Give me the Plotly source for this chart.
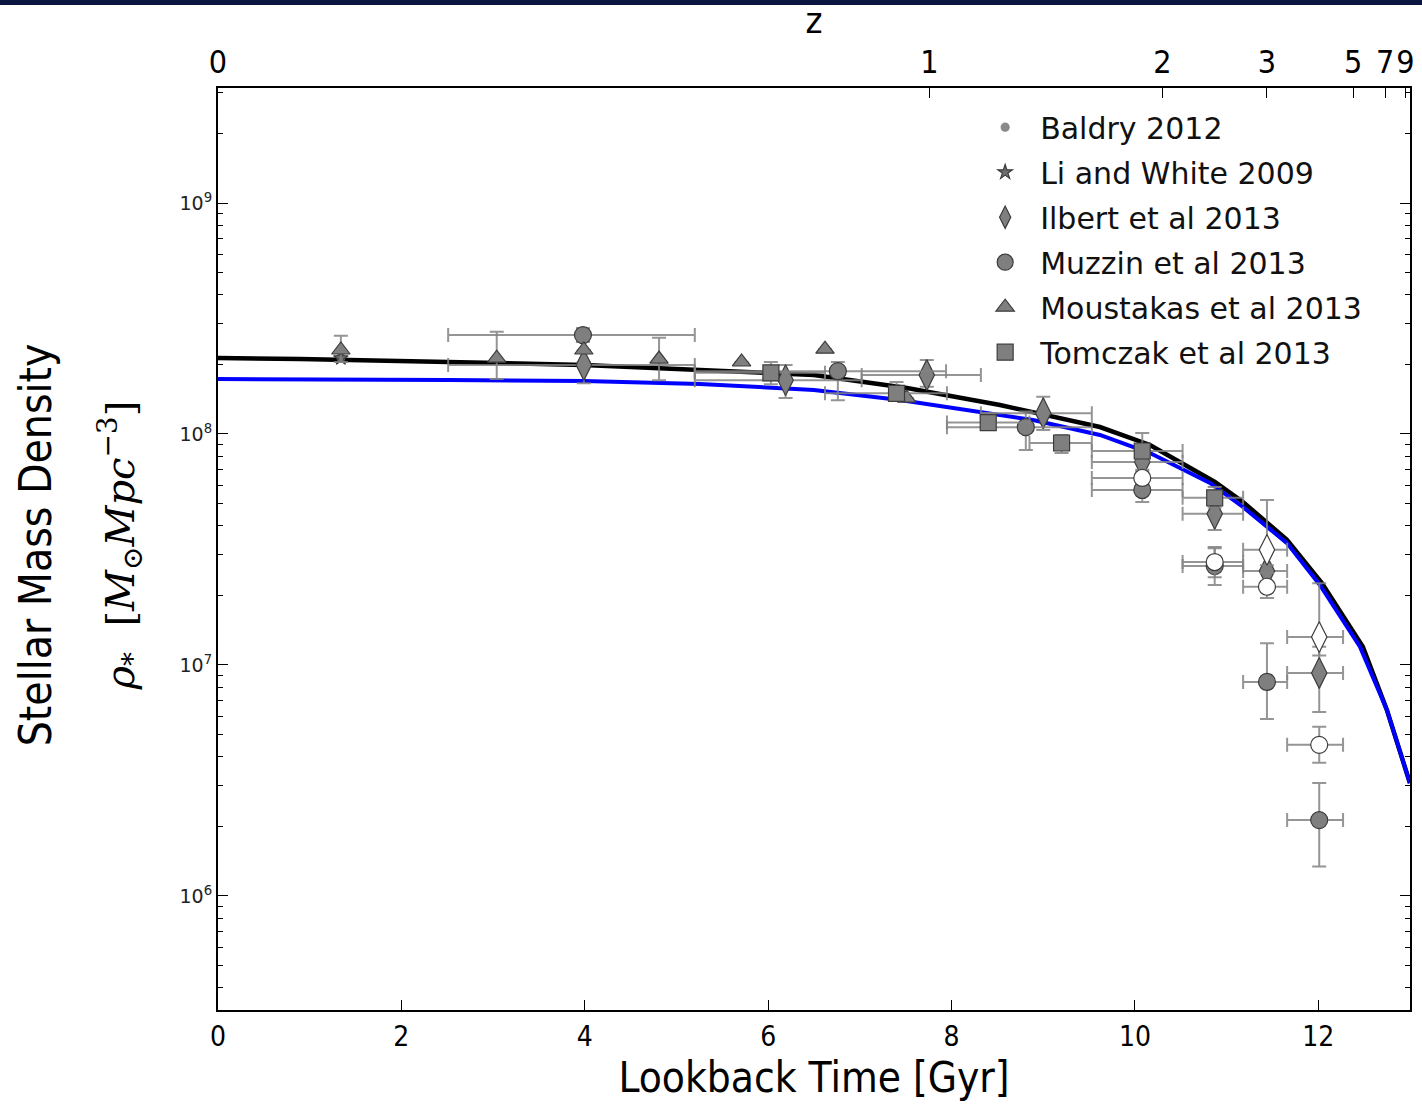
import plotly.graph_objects as go

# ---------------- data ----------------
# model curves (lookback time [Gyr], stellar mass density)
black_t = [0, 0.894, 2.508, 3.991, 5.256, 6.499, 7.514, 8.528, 9.618, 10.164, 10.872, 11.178, 11.658, 12.039, 12.486, 12.748, 12.999]
black_rho = [2.134e8, 2.113e8, 2.050e8, 1.990e8, 1.893e8, 1.801e8, 1.582e8, 1.335e8, 1.072e8, 8.96e7, 6.20e7, 5.08e7, 3.48e7, 2.26e7, 1.20e7, 6.38e6, 3.08e6]
blue_t = [0, 0.894, 2.508, 3.991, 5.256, 6.499, 7.437, 8.888, 9.618, 10.164, 10.818, 11.178, 11.658, 12.017, 12.454, 12.748, 12.999]
blue_rho = [1.730e8, 1.730e8, 1.713e8, 1.696e8, 1.646e8, 1.551e8, 1.404e8, 1.150e8, 9.90e7, 8.27e7, 6.14e7, 4.83e7, 3.37e7, 2.22e7, 1.20e7, 6.38e6, 3.08e6]

baldry_t = [1.34]
baldry_rho = [2.15e8]
liwhite_t = [1.34]
liwhite_rho = [2.13e8]

ilbert_t = [3.99, 6.19, 7.73, 9.00, 10.08, 10.87, 11.44, 12.01]
ilbert_rho = [1.99e8, 1.71e8, 1.80e8, 1.23e8, 7.57e7, 4.51e7, 2.55e7, 9.23e6]
ilbert_t_lo = [2.51, 5.20, 7.02, 8.32, 9.53, 10.52, 11.18, 11.66]
ilbert_t_hi = [5.20, 7.02, 8.32, 9.53, 10.52, 11.18, 11.66, 12.27]
ilbert_rho_lo = [1.66e8, 1.43e8, 1.60e8, 1.04e8, 6.9e7, 3.84e7, 2.1e7, 6.26e6]
ilbert_rho_hi = [2.05e8, 1.99e8, 2.09e8, 1.45e8, 8.5e7, 5.2e7, 3.1e7, 1.2e7]

ilbert_open_t = [11.44, 12.01]
ilbert_open_rho = [3.15e7, 1.32e7]
ilbert_open_t_lo = [11.18, 11.66]
ilbert_open_t_hi = [11.66, 12.27]
ilbert_open_rho_lo = [2.7e7, 1.1e7]
ilbert_open_rho_hi = [5.18e7, 2.26e7]

muzzin_t = [3.98, 6.76, 8.81, 10.08, 10.87, 11.44, 12.01]
muzzin_rho = [2.68e8, 1.87e8, 1.07e8, 5.72e7, 2.68e7, 8.44e6, 2.13e6]
muzzin_t_lo = [2.51, 5.20, 7.95, 9.53, 10.52, 11.18, 11.66]
muzzin_t_hi = [5.20, 7.94, 9.53, 10.52, 11.18, 11.66, 12.27]
muzzin_rho_lo = [2.50e8, 1.40e8, 8.53e7, 5.08e7, 2.22e7, 5.83e6, 1.34e6]
muzzin_rho_hi = [2.88e8, 2.05e8, 1.25e8, 6.30e7, 3.24e7, 1.24e7, 3.08e6]

muzzin_open_t = [10.08, 10.87, 11.44, 12.01]
muzzin_open_rho = [6.45e7, 2.79e7, 2.18e7, 4.51e6]
muzzin_open_t_lo = [9.53, 10.52, 11.18, 11.66]
muzzin_open_t_hi = [10.52, 11.18, 11.66, 12.27]
muzzin_open_rho_lo = [5.9e7, 2.4e7, 1.95e7, 3.77e6]
muzzin_open_rho_hi = [7.0e7, 3.2e7, 2.5e7, 5.40e6]

moustakas_t = [1.34, 3.04, 3.99, 4.81, 5.71, 6.62, 7.51]
moustakas_rho = [2.31e8, 2.13e8, 2.31e8, 2.11e8, 2.05e8, 2.33e8, 1.43e8]
moustakas_rho_lo = [2.05e8, 1.73e8, None, 1.71e8, None, None, None]
moustakas_rho_hi = [2.66e8, 2.77e8, None, 2.61e8, None, None, None]

tomczak_t = [6.03, 7.40, 8.40, 9.20, 10.08, 10.87]
tomczak_rho = [1.84e8, 1.50e8, 1.12e8, 9.14e7, 8.44e7, 5.29e7]
tomczak_t_lo = [5.20, 6.62, 7.95, 8.85, 9.53, 10.52]
tomczak_t_hi = [6.62, 7.95, 8.85, 9.53, 10.52, 11.18]
tomczak_rho_lo = [1.64e8, 1.40e8, 1.04e8, 8.28e7, 7.6e7, 4.8e7]
tomczak_rho_hi = [2.05e8, 1.68e8, 1.23e8, 9.9e7, 1.01e8, 5.9e7]

# top axis: redshift ticks and their lookback times
z_labels = ["0", "1", "2", "3", "5", "7", "9"]
z_lookback = [0, 7.76, 10.30, 11.44, 12.38, 12.73, 12.95]

x_ticks = [0, 2, 4, 6, 8, 10, 12]
y_decades = [1e5, 1e6, 1e7, 1e8, 1e9]
y_ticks = [1e6, 1e7, 1e8, 1e9]
y_ticktext = ["10<sup>6</sup>", "10<sup>7</sup>", "10<sup>8</sup>", "10<sup>9</sup>"]
y_minor_mult = [2, 3, 4, 5, 6, 7, 8, 9]
y_minor = [d * m for d in y_decades for m in y_minor_mult]

# ---------------- helpers ----------------
def plus(vals, hi):
    return [None if h is None else h - v for v, h in zip(vals, hi)]

def minus(vals, lo):
    return [None if l is None else v - l for v, l in zip(vals, lo)]

ERR_COLOR = "rgba(130,130,130,0.85)"
FILL = "#7f7f7f"
EDGE = "#3c3c3c"
AX_FONT = "Liberation Sans Narrow, DejaVu Sans Condensed, Roboto Condensed, Arial Narrow, DejaVu Sans, sans-serif"
LEG_FONT = "DejaVu Sans, sans-serif"

def series(name, t, rho, symbol, size, fill, t_lo=None, t_hi=None, r_lo=None, r_hi=None,
           showlegend=True, group=None, edge=EDGE):
    kw = {}
    if r_lo is not None:
        kw["error_y"] = dict(type="data", symmetric=False, array=plus(rho, r_hi),
                             arrayminus=minus(rho, r_lo), color=ERR_COLOR, thickness=2, width=7)
    if t_lo is not None:
        kw["error_x"] = dict(type="data", symmetric=False, array=plus(t, t_hi),
                             arrayminus=minus(t, t_lo), color=ERR_COLOR, thickness=2, width=7)
    return go.Scatter(x=t, y=rho, mode="markers", name=name, showlegend=showlegend,
                      legendgroup=group or name,
                      marker=dict(symbol=symbol, size=size, color=fill,
                                  line=dict(color=edge, width=1.2)),
                      **kw)

fig = go.Figure()

# model curves
fig.add_trace(go.Scatter(x=black_t, y=black_rho, mode="lines", showlegend=False,
                         line=dict(color="black", width=4.5)))
fig.add_trace(go.Scatter(x=blue_t, y=blue_rho, mode="lines", showlegend=False,
                         line=dict(color="#0000ff", width=4)))
# carrier trace so that the top (redshift) axis is drawn
fig.add_trace(go.Scatter(x=[None], y=[None], xaxis="x2", yaxis="y", mode="markers",
                         showlegend=False, hoverinfo="skip"))

fig.add_trace(series("Baldry 2012", baldry_t, baldry_rho, "circle", 8, "#8a8a8a", edge="#8a8a8a"))
fig.add_trace(series("Li and White 2009", liwhite_t, liwhite_rho, "star", 11, "#6e6e6e"))
fig.add_trace(series("Ilbert et al 2013", ilbert_t, ilbert_rho, "diamond-tall", 22, FILL,
                     ilbert_t_lo, ilbert_t_hi, ilbert_rho_lo, ilbert_rho_hi))
fig.add_trace(series("Ilbert open", ilbert_open_t, ilbert_open_rho, "diamond-tall", 22, "white",
                     ilbert_open_t_lo, ilbert_open_t_hi, ilbert_open_rho_lo, ilbert_open_rho_hi,
                     showlegend=False, group="Ilbert et al 2013"))
fig.add_trace(series("Muzzin et al 2013", muzzin_t, muzzin_rho, "circle", 17, FILL,
                     muzzin_t_lo, muzzin_t_hi, muzzin_rho_lo, muzzin_rho_hi))
fig.add_trace(series("Muzzin open", muzzin_open_t, muzzin_open_rho, "circle", 17, "white",
                     muzzin_open_t_lo, muzzin_open_t_hi, muzzin_open_rho_lo, muzzin_open_rho_hi,
                     showlegend=False, group="Muzzin et al 2013"))
fig.add_trace(series("Moustakas et al 2013", moustakas_t, moustakas_rho, "triangle-up", 16, FILL,
                     None, None, moustakas_rho_lo, moustakas_rho_hi))
fig.add_trace(series("Tomczak et al 2013", tomczak_t, tomczak_rho, "square", 16, FILL,
                     tomczak_t_lo, tomczak_t_hi, tomczak_rho_lo, tomczak_rho_hi))

axis_common = dict(showgrid=False, zeroline=False, ticks="inside", tickcolor="black",
                   linecolor="black", linewidth=2, showline=True, automargin=False)

fig.update_layout(
    width=1422, height=1104,
    margin=dict(l=218, r=12, t=88, b=94),
    paper_bgcolor="white", plot_bgcolor="white",
    xaxis=dict(range=[0, 13], tickvals=x_ticks, ticklen=10, tickwidth=1.2, mirror=True,
               tickangle=0,
               tickfont=dict(family=AX_FONT, size=28, color="black"),
               title=dict(text="Lookback Time [Gyr]", standoff=2,
                          font=dict(family=AX_FONT, size=42, color="black")),
               **axis_common),
    xaxis2=dict(range=[0, 13], overlaying="x", side="top", anchor="y",
                tickvals=z_lookback, ticktext=z_labels, ticklen=10, tickwidth=1.2,
                tickangle=0,
                tickfont=dict(family=AX_FONT, size=32, color="black"),
                title=dict(text="z", standoff=4, font=dict(family=AX_FONT, size=36, color="black")),
                **axis_common),
    yaxis=dict(type="log", range=[5.506, 9.498], tickvals=y_ticks, ticktext=y_ticktext,
               ticklen=10, tickwidth=1.2, mirror="ticks",
               tickfont=dict(family=LEG_FONT, size=19, color="#222"),
               minor=dict(tickvals=y_minor, ticks="inside", ticklen=5, tickcolor="black",
                          tickwidth=1, showgrid=False),
               **axis_common),
    legend=dict(x=0.631, y=0.9857, xanchor="left", yanchor="top", bgcolor="rgba(0,0,0,0)",
                font=dict(family=LEG_FONT, size=30, color="#111"), tracegroupgap=3,
                traceorder="grouped", itemwidth=60),
    shapes=[dict(type="rect", xref="paper", yref="paper", x0=-0.19, x1=1.02,
                 y0=1.0900, y1=1.0960, fillcolor="#0b1640", line=dict(width=0), layer="above")],
    annotations=[
        dict(text="Stellar Mass Density", xref="paper", yref="paper", x=-0.1535, y=0.504,
             textangle=-90, showarrow=False, xanchor="center", yanchor="middle",
             font=dict(family=AX_FONT, size=44, color="black")),
        dict(text="<i>ρ</i><sub>*</sub>  [<i>M</i><sub>⊙</sub><i>Mpc</i><sup>−3</sup>]",
             xref="paper", yref="paper", x=-0.082, y=0.504, textangle=-90, showarrow=False,
             xanchor="center", yanchor="middle",
             font=dict(family="DejaVu Serif, Liberation Serif, serif", size=40, color="black")),
    ],
)

fig.write_html("out.html")
